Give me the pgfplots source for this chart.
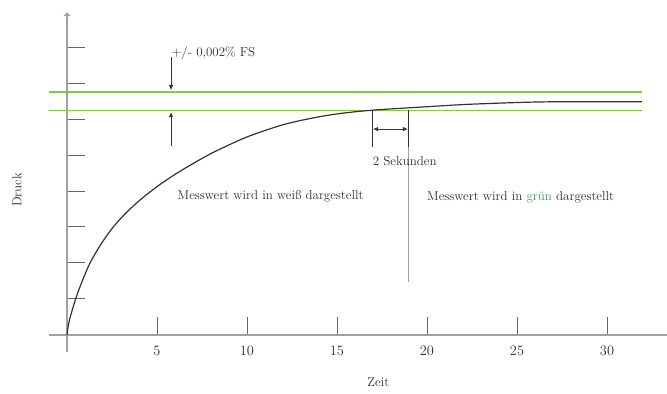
\documentclass[border=0pt]{standalone}
\usepackage{pgfplots}
\pgfplotsset{compat=1.18}
\usetikzlibrary{arrows.meta}
\definecolor{axgray}{HTML}{A0A0A0}
\definecolor{tickgray}{HTML}{666666}
\definecolor{curvec}{HTML}{333333}
\definecolor{limegreen}{HTML}{8DC63F}
\definecolor{txtgreen}{HTML}{3A9E5A}
\definecolor{txtc}{HTML}{2E2E2E}
\begin{document}
\begin{tikzpicture}[every node/.style={font=\fontsize{13}{15}\selectfont}]
\begin{axis}[
  scale only axis,
  width=618bp, height=339.4bp,
  xmin=-1, xmax=33.333,
  ymin=-0.47, ymax=8.96,
  axis lines=middle,
  clip=false,
  x axis line style={-, axgray, line width=1.4bp},
  y axis line style={-{To[length=4pt,width=7pt]}, axgray, line width=1.4bp},
  xtick={5,10,15,20,25,30},
  ytick={1,2,3,4,5,6,7,8},
  yticklabels={},
  tick align=inside,
  major tick length=18bp,
  tick style={tickgray, line width=0.9bp},
  xticklabel style={text=txtc, font=\fontsize{14.5}{16}\selectfont, yshift=-8bp},
]
\addplot[limegreen, line width=1.3bp] coordinates {(-1,6.75) (31.94,6.75)};
\addplot[limegreen, line width=1.3bp] coordinates {(-1,6.24) (31.94,6.24)};
\addplot[curvec, line width=1.2bp, smooth] coordinates {
(0,0) (0.12,0.38) (0.48,1.0) (0.85,1.5) (1.28,2.0) (1.9,2.53) (2.57,3.0)
(3.3,3.40) (4.06,3.75) (5,4.12) (6,4.46) (7,4.76) (8,5.04) (9,5.28)
(10,5.50) (11,5.68) (12,5.84) (13,5.96) (14,6.06) (15,6.14) (16,6.20)
(17,6.245) (18,6.28) (19,6.31) (20,6.34) (22,6.40) (24,6.44) (26,6.47)
(28,6.48) (31.94,6.48)};
% annotations
\draw[curvec, line width=0.8bp, -{Latex[length=5pt,width=4.5pt]}] (axis cs:5.78,7.72) -- (axis cs:5.78,6.80);
\draw[curvec, line width=0.8bp, -{Latex[length=5pt,width=4.5pt]}] (axis cs:5.78,5.26) -- (axis cs:5.78,6.19);
\node[anchor=west, text=txtc, inner sep=0pt] at (axis cs:5.80,7.83) {+/- 0,002\% FS};
\draw[curvec, line width=0.8bp] (axis cs:16.96,6.24) -- (axis cs:16.96,5.22);
\draw[curvec, line width=0.8bp] (axis cs:18.98,6.24) -- (axis cs:18.98,5.22);
\draw[axgray, line width=0.8bp] (axis cs:18.98,5.22) -- (axis cs:18.98,1.48);
\draw[curvec, line width=0.8bp, {Latex[length=5pt,width=4.5pt]}-{Latex[length=5pt,width=4.5pt]}] (axis cs:17.0,5.72) -- (axis cs:18.94,5.72);
\node[anchor=west, text=txtc, inner sep=0pt] at (axis cs:16.98,4.83) {2 Sekunden};
\node[text=txtc, inner sep=0pt] at (axis cs:11.31,3.86) {Messwert wird in weiß dargestellt};
\node[text=txtc, inner sep=0pt] at (axis cs:25.2,3.83) {Messwert wird in \textcolor{txtgreen}{grün} dargestellt};
\node[text=txtc, inner sep=0pt] at (axis cs:17.3,-1.31) {Zeit};
\node[text=txtc, inner sep=0pt, rotate=90] at (axis cs:-2.78,4.03) {Druck};
\coordinate (bl) at (axis cs:-3.7222,-1.6389);
\coordinate (tr) at (axis cs:33.333,9.3056);
\end{axis}
\pgfresetboundingbox
\path[use as bounding box] (bl) rectangle (tr);
\end{tikzpicture}
\end{document}
